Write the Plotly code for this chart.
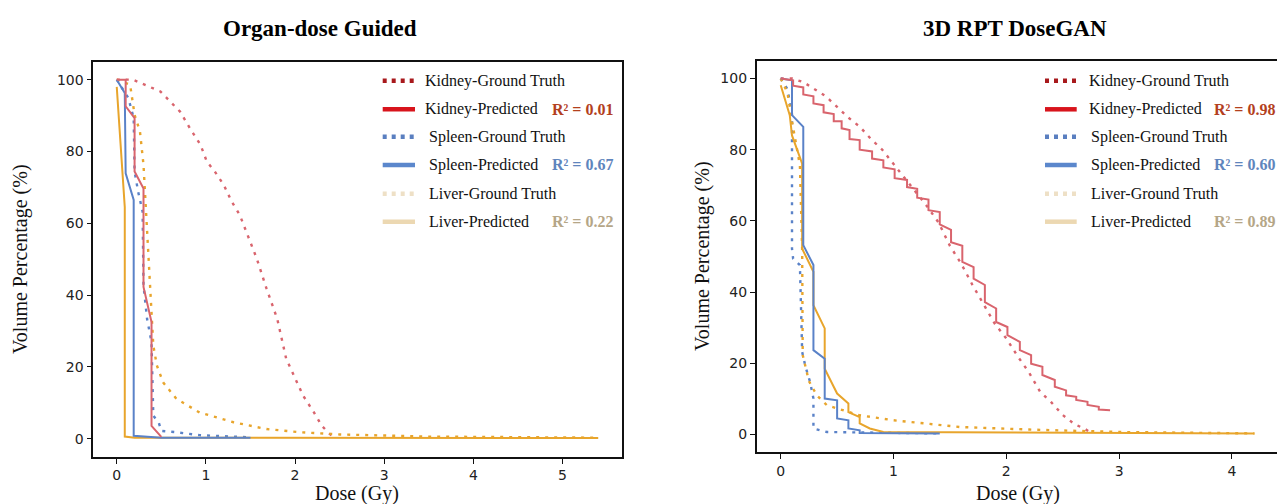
import plotly.graph_objects as go

W, H = 1277, 504

# ---------------- Organ-dose Guided (left panel) ----------------
odg_kidney_gt_dose = [0, 0.18, 0.49, 0.6, 0.71, 0.82, 0.94, 1.01, 1.10, 1.20, 1.29, 1.38, 1.48, 1.57, 1.68, 1.80, 1.90, 2.0, 2.09, 2.21, 2.30, 2.39, 2.45]
odg_kidney_gt_vol = [100, 100, 96.7, 94, 91.1, 86.5, 81.8, 77.2, 74.4, 70.7, 66, 62.3, 56.2, 50.2, 41.8, 33.4, 22.3, 17.1, 12, 7.4, 3.6, 1.3, 0.3]
odg_kidney_pred_dose = [0, 0.1, 0.1, 0.2, 0.2, 0.3, 0.3, 0.39, 0.39, 0.5]
odg_kidney_pred_vol = [100, 100, 92.6, 89.3, 74.4, 69.7, 42.3, 32.5, 3.6, 0.5]
odg_spleen_gt_dose = [0, 0.13, 0.19, 0.2, 0.24, 0.29, 0.3, 0.34, 0.39, 0.41, 0.47, 0.5, 0.67, 0.93, 1.5]
odg_spleen_gt_vol = [100, 94.9, 89.3, 74.4, 68.8, 63.2, 42.7, 33.4, 26.9, 6.4, 4.6, 2.2, 1.8, 1.0, 0.4]
odg_spleen_pred_dose = [0, 0.09, 0.1, 0.19, 0.19, 0.5, 1.5]
odg_spleen_pred_vol = [100, 96.3, 73.9, 66.5, 0.8, 0.3, 0.3]
odg_liver_gt_dose = [0, 0.15, 0.2, 0.26, 0.3, 0.34, 0.37, 0.41, 0.45, 0.52, 0.67, 0.93, 1.31, 1.68, 2.06, 2.5, 3.5, 5.4]
odg_liver_gt_vol = [100, 98.6, 90.2, 85.6, 76.3, 57.6, 43.7, 26, 20.4, 15.7, 11.1, 7.3, 4.6, 2.7, 1.8, 1.2, 0.6, 0.3]
odg_liver_pred_dose = [0, 0.09, 0.09, 0.2, 5.4]
odg_liver_pred_vol = [98, 64.5, 0.6, 0.3, 0.2]

# ---------------- 3D RPT DoseGAN (right panel) ----------------
gan_kidney_gt_dose = [0, 0.1, 0.2, 0.3, 0.4, 0.5, 0.6, 0.7, 0.8, 0.9, 1.0, 1.1, 1.2, 1.3, 1.4, 1.5, 1.6, 1.7, 1.8, 1.9, 2.0, 2.1, 2.2, 2.3, 2.4, 2.5, 2.6, 2.7, 2.75]
gan_kidney_gt_vol = [100, 100, 99, 97, 95, 92, 89, 86.5, 83, 80, 76, 72, 68, 64, 59.5, 53, 48, 42, 36.5, 31, 27, 22, 17.5, 12, 9, 5.5, 3, 1.5, 0.5]
gan_kidney_pred_dose = [0, 0.11, 0.11, 0.2, 0.2, 0.29, 0.29, 0.38, 0.38, 0.47, 0.47, 0.54, 0.54, 0.61, 0.61,
                        0.70, 0.70, 0.81, 0.81, 0.91, 0.91, 1.01, 1.01, 1.12, 1.12, 1.21, 1.21, 1.31, 1.31,
                        1.41, 1.41, 1.51, 1.51, 1.61, 1.61, 1.71, 1.71, 1.81, 1.81, 1.91, 1.91, 2.01, 2.01,
                        2.12, 2.12, 2.22, 2.22, 2.32, 2.32, 2.43, 2.43, 2.53, 2.53, 2.62, 2.62, 2.72, 2.72,
                        2.82, 2.82, 2.92]
gan_kidney_pred_vol = [100, 99.5, 98, 97.5, 95.5, 95, 93, 92.5, 90.5, 90, 88, 88, 86, 85.5, 83,
                       82.7, 80, 79.5, 77.5, 77, 75, 74.5, 72, 71.5, 69.5, 69, 66.5, 66, 63,
                       62.5, 59, 57.5, 54, 53, 48.5, 47, 43.8, 42, 37.2, 35.4, 31.6, 30.2, 27.9,
                       26, 23.7, 22.3, 19.9, 19, 16.7, 15.3, 13.4, 12.4, 11, 10.6, 9.7, 9.2, 8.3,
                       7.8, 7.0, 6.8]
gan_spleen_gt_dose = [0, 0.06, 0.1, 0.1, 0.11, 0.17, 0.19, 0.22, 0.26, 0.29, 0.29, 0.41, 1.41]
gan_spleen_gt_vol = [100, 97, 90, 52.2, 49.4, 47.6, 23.2, 19, 14.8, 10.1, 1.7, 0.7, 0.3]
gan_spleen_pred_dose = [0, 0.1, 0.1, 0.2, 0.2, 0.29, 0.29, 0.39, 0.39, 0.5, 0.5, 0.6, 0.6, 0.7, 0.7, 1.41]
gan_spleen_pred_vol = [100, 99.5, 89.7, 86.4, 53.2, 47.6, 23.7, 21.3, 10.1, 9.6, 4.5, 4.0, 1.7, 1.2, 0.4, 0.3]
gan_liver_gt_dose = [0, 0.06, 0.1, 0.17, 0.19, 0.195, 0.25, 0.32, 0.41, 0.7, 1.0, 1.29, 1.59, 2.2, 3.0, 4.2]
gan_liver_gt_vol = [100, 96, 88, 75.6, 52.2, 22.3, 15, 11, 8.2, 5.4, 4.0, 3.1, 2.1, 1.4, 0.7, 0.3]
gan_liver_pred_dose = [0, 0.08, 0.1, 0.19, 0.19, 0.29, 0.29, 0.39, 0.39, 0.5, 0.6, 0.6, 0.7, 0.7, 0.79, 0.91, 4.2]
gan_liver_pred_vol = [98.1, 89.7, 84, 76.1, 52.2, 45.7, 36.3, 29.8, 18.5, 11.5, 8.7, 6.3, 4.9, 3.1, 1.7, 0.7, 0.3]

# legend rows and R² scores
legend_labels = ["Kidney-Ground Truth", "Kidney-Predicted", "Spleen-Ground Truth",
                 "Spleen-Predicted", "Liver-Ground Truth", "Liver-Predicted"]
odg_r2 = ["0.01", "0.67", "0.22"]
gan_r2 = ["0.98", "0.60", "0.89"]

x_ticks_left = [0, 1, 2, 3, 4, 5]
x_ticks_right = [0, 1, 2, 3, 4]
y_ticks = [0, 20, 40, 60, 80, 100]

# styling
KIDNEY = "#d9646d"
SPLEEN = "#5a82c8"
LIVER = "#e8a52c"
DOT = "3px,6px"
LEG_COLORS = ["#a8191c", "#d8141c", "#5a7fc0", "#5b87cc", "#eee0c6", "#ecd8b2"]
LEG_DASH = ["4px,5px", "solid", "4px,5px", "solid", "4px,5px", "solid"]
R2_COLORS = ["#b3401e", "#5f85bd", "#b5a687"]
SERIF = "Liberation Serif"


def px(x):
    return x / W


def py(y):
    return 1 - y / H


fig = go.Figure()


def add_curve(dose, vol, color, dash, xa, ya):
    fig.add_trace(go.Scatter(
        x=dose, y=vol, mode="lines", xaxis=xa, yaxis=ya, showlegend=False,
        line=dict(color=color, width=2.4 if dash != "solid" else 2, dash=dash),
        hoverinfo="skip"))


panels = [
    ("x", "y", [
        (odg_kidney_gt_dose, odg_kidney_gt_vol, KIDNEY, DOT),
        (odg_spleen_gt_dose, odg_spleen_gt_vol, SPLEEN, DOT),
        (odg_liver_gt_dose, odg_liver_gt_vol, LIVER, DOT),
        (odg_liver_pred_dose, odg_liver_pred_vol, LIVER, "solid"),
        (odg_spleen_pred_dose, odg_spleen_pred_vol, SPLEEN, "solid"),
        (odg_kidney_pred_dose, odg_kidney_pred_vol, KIDNEY, "solid"),
    ]),
    ("x2", "y2", [
        (gan_kidney_gt_dose, gan_kidney_gt_vol, KIDNEY, DOT),
        (gan_spleen_gt_dose, gan_spleen_gt_vol, SPLEEN, DOT),
        (gan_liver_gt_dose, gan_liver_gt_vol, LIVER, DOT),
        (gan_liver_pred_dose, gan_liver_pred_vol, LIVER, "solid"),
        (gan_spleen_pred_dose, gan_spleen_pred_vol, SPLEEN, "solid"),
        (gan_kidney_pred_dose, gan_kidney_pred_vol, KIDNEY, "solid"),
    ]),
]
for xa, ya, curves in panels:
    for dose, vol, color, dash in curves:
        add_curve(dose, vol, color, dash, xa, ya)

tick_font = dict(family="DejaVu Sans", size=14, color="#222222")
axis_common = dict(showgrid=False, zeroline=False, showline=True, linecolor="#111111",
                   linewidth=1.6, ticks="outside", ticklen=5, tickwidth=1.4,
                   tickcolor="#111111", tickfont=tick_font)

fig.update_layout(
    width=W, height=H, margin=dict(l=0, r=0, t=0, b=0),
    paper_bgcolor="white", plot_bgcolor="white", showlegend=False,
    xaxis=dict(domain=[px(93.3), px(622.3)], range=[-0.263, 5.67], anchor="y",
               tickvals=x_ticks_left, mirror=True, **axis_common),
    yaxis=dict(domain=[py(456.7), py(61.7)], range=[-5, 105], anchor="x",
               tickvals=y_ticks, mirror=True, **axis_common),
    xaxis2=dict(domain=[px(756.7), 1.0], range=[-0.213, 4.40], anchor="y2",
                tickvals=x_ticks_right, mirror=True, **axis_common),
    yaxis2=dict(domain=[py(452.3), py(60.7)], range=[-5, 105], anchor="x2",
                tickvals=y_ticks, mirror=False, **axis_common),
)

annotations = []
shapes = []

# titles and axis labels
for text, cx in [("Organ-dose Guided", 320), ("3D RPT DoseGAN", 1015)]:
    annotations.append(dict(text=f"<b>{text}</b>", x=px(cx), y=py(28), xref="paper", yref="paper",
                            showarrow=False, xanchor="center", yanchor="middle",
                            font=dict(family=SERIF, size=23, color="#000000")))
for cx in [357, 1018]:
    annotations.append(dict(text="Dose (Gy)", x=px(cx), y=py(493), xref="paper", yref="paper",
                            showarrow=False, xanchor="center", yanchor="middle",
                            font=dict(family=SERIF, size=20, color="#111111")))
for cx, cy in [(20, 259), (702, 256)]:
    annotations.append(dict(text="Volume Percentage (%)", x=px(cx), y=py(cy), xref="paper",
                            yref="paper", showarrow=False, textangle=-90, xanchor="center",
                            yanchor="middle", font=dict(family=SERIF, size=20, color="#111111")))

# hand-drawn legends
legend_specs = [
    dict(x0=382.7, x1=415, tx=[423, 423, 426.7, 426.7, 426.7, 426.7], rx=550, r2=odg_r2),
    dict(x0=1045, x1=1076.7, tx=[1086.7, 1086.7, 1089, 1089, 1089, 1089], rx=1211.7, r2=gan_r2),
]
rows = [80.7, 109.3, 136.7, 165, 193.8, 221.7]
for spec in legend_specs:
    for i, label in enumerate(legend_labels):
        y = rows[i]
        shapes.append(dict(type="line", xref="paper", yref="paper",
                           x0=px(spec["x0"]), x1=px(spec["x1"]), y0=py(y), y1=py(y),
                           line=dict(color=LEG_COLORS[i], width=4.5, dash=LEG_DASH[i])))
        annotations.append(dict(text=label, x=px(spec["tx"][i]), y=py(y), xref="paper",
                                yref="paper", showarrow=False, xanchor="left", yanchor="middle",
                                font=dict(family=SERIF, size=16, color="#111111")))
        if i % 2 == 1:
            k = i // 2
            annotations.append(dict(text=f"<b>R² = {spec['r2'][k]}</b>", x=px(spec["rx"]),
                                    y=py(y), xref="paper", yref="paper", showarrow=False,
                                    xanchor="left", yanchor="middle",
                                    font=dict(family=SERIF, size=16, color=R2_COLORS[k])))

fig.update_layout(annotations=annotations, shapes=shapes)
fig.write_html("out.html")
